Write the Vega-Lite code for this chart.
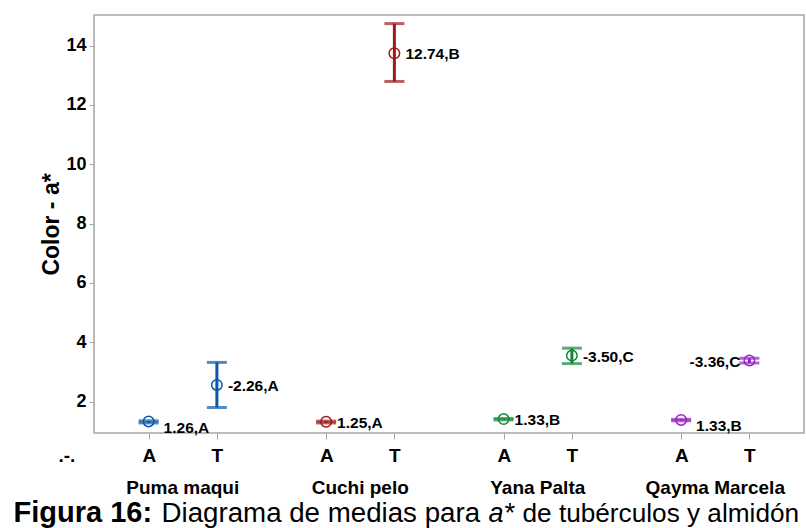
{
  "$schema": "https://vega.github.io/schema/vega-lite/v6.json",
  "width": 710,
  "height": 418,
  "autosize": {"type": "none"},
  "padding": {"left": 94, "top": 15, "right": 2, "bottom": 95},
  "background": "white",
  "data": {
    "values": [
      {"variety": "Puma maqui", "type": "A", "mean": 1.33, "lower": 1.28, "upper": 1.35, "label": "1.26,A"},
      {"variety": "Puma maqui", "type": "T", "mean": 2.56, "lower": 1.8, "upper": 3.32, "label": "-2.26,A"},
      {"variety": "Cuchi pelo", "type": "A", "mean": 1.32, "lower": 1.28, "upper": 1.34, "label": "1.25,A"},
      {"variety": "Cuchi pelo", "type": "T", "mean": 13.74, "lower": 12.79, "upper": 14.74, "label": "12.74,B"},
      {"variety": "Yana Palta", "type": "A", "mean": 1.41, "lower": 1.38, "upper": 1.43, "label": "1.33,B"},
      {"variety": "Yana Palta", "type": "T", "mean": 3.55, "lower": 3.28, "upper": 3.8, "label": "-3.50,C"},
      {"variety": "Qayma Marcela", "type": "A", "mean": 1.38, "lower": 1.35, "upper": 1.4, "label": "1.33,B"},
      {"variety": "Qayma Marcela", "type": "T", "mean": 3.38, "lower": 3.3, "upper": 3.46, "label": "-3.36,C"}
    ]
  },
  "encoding": {
    "xOffset": {"field": "type", "type": "nominal", "scale": {"type": "point", "padding": 0.8, "domain": ["A", "T"]}},
    "color": {
      "field": "variety",
      "type": "nominal",
      "scale": {
        "domain": ["Puma maqui", "Cuchi pelo", "Yana Palta", "Qayma Marcela"],
        "range": ["#0A56A8", "#9E1A1E", "#12893A", "#9524C0"]
      },
      "legend": null
    }
  },
  "layer": [
    {
      "mark": {"type": "rule", "strokeWidth": 3},
      "encoding": {
        "x": {
          "field": "variety", "type": "nominal",
          "scale": {"domain": ["Puma maqui", "Cuchi pelo", "Yana Palta", "Qayma Marcela"], "paddingInner": 0, "paddingOuter": 0},
          "axis": {
            "orient": "bottom", "tickOffset": -34, "labelExpr": "'A'", "ticks": true, "tickSize": 6, "tickColor": "#a6a6a6",
            "labelFontSize": 19, "labelFontWeight": "bold", "labelPadding": 7, "labelAngle": 0, "labelColor": "black",
            "title": ".-.", "titleX": -36, "titleY": 28, "titleAlign": "left", "titleBaseline": "alphabetic",
            "titleFontSize": 19, "titleFontWeight": "bold", "titleAngle": 0, "titleColor": "black"
          }
        },
        "y": {
          "field": "lower", "type": "quantitative",
          "scale": {"domain": [0.94, 15.03], "nice": false, "zero": false},
          "axis": {
            "values": [2, 4, 6, 8, 10, 12, 14], "grid": false, "tickSize": 5, "tickColor": "#a6a6a6",
            "labelFontSize": 18, "labelFontWeight": "bold", "labelPadding": 3, "labelColor": "black",
            "title": "Color - a*", "titleFontSize": 23, "titleFontWeight": "bold", "titleColor": "black", "titlePadding": 2
          }
        },
        "y2": {"field": "upper"}
      }
    },
    {
      "mark": {"type": "tick", "size": 20, "thickness": 3},
      "encoding": {
        "x": {
          "field": "variety", "type": "nominal",
          "axis": {
            "orient": "bottom", "tickOffset": 34, "labelExpr": "'T'", "ticks": true, "tickSize": 6, "tickColor": "#a6a6a6",
            "labelFontSize": 19, "labelFontWeight": "bold", "labelPadding": 7, "labelAngle": 0, "labelColor": "black",
            "title": "Figura 16:", "titleX": -81, "titleY": 88, "titleAlign": "left", "titleBaseline": "alphabetic",
            "titleFontSize": 29, "titleFontWeight": "bold", "titleAngle": 0, "titleColor": "black"
          }
        },
        "y": {"field": "upper", "type": "quantitative"}
      }
    },
    {
      "mark": {"type": "tick", "size": 20, "thickness": 3},
      "encoding": {
        "x": {
          "field": "variety", "type": "nominal",
          "axis": {
            "orient": "bottom", "ticks": false, "tickSize": 0,
            "labelFontSize": 19, "labelFontWeight": "bold", "labelPadding": 45, "labelAngle": 0, "labelColor": "black",
            "title": "Diagrama de medias para", "titleX": 67, "titleY": 88, "titleAlign": "left", "titleBaseline": "alphabetic",
            "titleFontSize": 27.7, "titleFontWeight": "normal", "titleAngle": 0, "titleColor": "black"
          }
        },
        "y": {"field": "lower", "type": "quantitative"}
      }
    },
    {
      "mark": {"type": "point", "shape": "circle", "filled": false, "strokeWidth": 1.5, "size": 110, "opacity": 1},
      "encoding": {
        "x": {
          "field": "variety", "type": "nominal",
          "axis": {
            "orient": "bottom", "ticks": false, "labels": false,
            "title": "a*", "titleX": 394, "titleY": 88, "titleAlign": "left", "titleBaseline": "alphabetic",
            "titleFontSize": 27, "titleFontWeight": "normal", "titleFontStyle": "italic", "titleAngle": 0, "titleColor": "black"
          }
        },
        "y": {"field": "mean", "type": "quantitative"}
      }
    },
    {
      "transform": [{"filter": "(datum.type == 'T' && datum.variety != 'Qayma Marcela') || datum.variety == 'Cuchi pelo' || datum.variety == 'Yana Palta'"}],
      "mark": {"type": "text", "align": "left", "baseline": "middle", "dx": 11, "dy": 1, "fontSize": 15.5, "fontWeight": "bold", "color": "black"},
      "encoding": {
        "x": {
          "field": "variety", "type": "nominal",
          "axis": {
            "orient": "bottom", "ticks": false, "labels": false,
            "title": "de tubérculos y almidón", "titleX": 428, "titleY": 88, "titleAlign": "left", "titleBaseline": "alphabetic",
            "titleFontSize": 26.2, "titleFontWeight": "normal", "titleAngle": 0, "titleColor": "black"
          }
        },
        "y": {"field": "mean", "type": "quantitative"},
        "text": {"field": "label"},
        "color": {"value": "black"}
      }
    },
    {
      "transform": [{"filter": "datum.type == 'A' && (datum.variety == 'Puma maqui' || datum.variety == 'Qayma Marcela')"}],
      "mark": {"type": "text", "align": "left", "baseline": "middle", "dx": 15, "dy": 6.5, "fontSize": 15.5, "fontWeight": "bold", "color": "black"},
      "encoding": {
        "x": {"field": "variety", "type": "nominal", "axis": null},
        "y": {"field": "mean", "type": "quantitative"},
        "text": {"field": "label"},
        "color": {"value": "black"}
      }
    },
    {
      "transform": [{"filter": "datum.type == 'T' && datum.variety == 'Qayma Marcela'"}],
      "mark": {"type": "text", "align": "right", "baseline": "middle", "dx": -9, "dy": 1, "fontSize": 15.5, "fontWeight": "bold", "color": "black"},
      "encoding": {
        "x": {"field": "variety", "type": "nominal", "axis": null},
        "y": {"field": "mean", "type": "quantitative"},
        "text": {"field": "label"},
        "color": {"value": "black"}
      }
    }
  ],
  "resolve": {"axis": {"x": "independent"}},
  "config": {
    "font": "Liberation Sans",
    "view": {"stroke": "#a6a6a6", "strokeWidth": 1.5},
    "axis": {"domain": false, "labelFont": "Liberation Sans", "titleFont": "Liberation Sans"},
    "text": {"font": "Liberation Sans"}
  }
}
